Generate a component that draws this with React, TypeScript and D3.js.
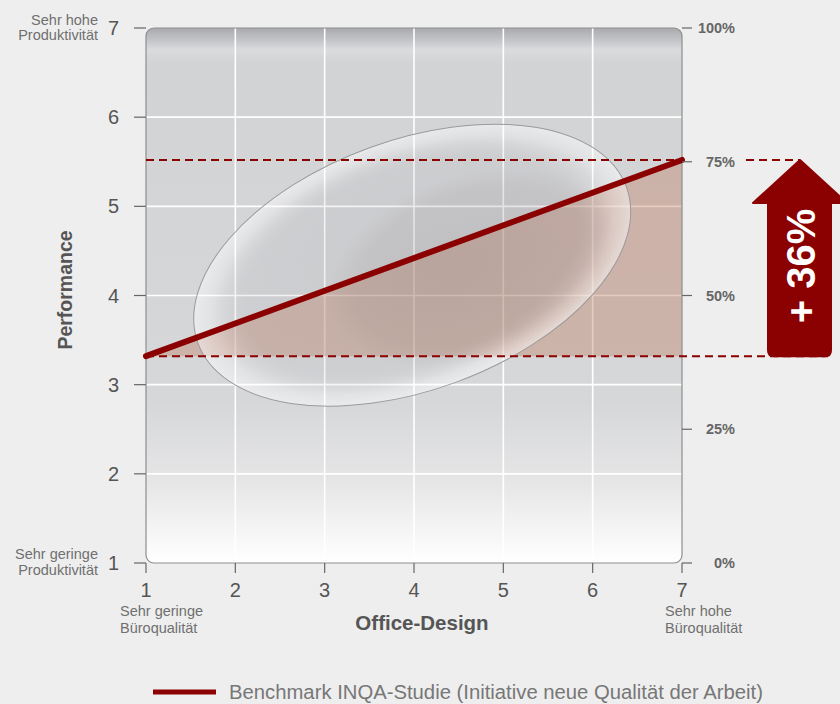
import React from "react";
import * as d3 from "d3";

const xTicks = [1, 2, 3, 4, 5, 6, 7];
const yTicks = [1, 2, 3, 4, 5, 6, 7];
const pctTicks = [0, 25, 50, 75, 100];
const benchmarkX = [1, 7];
const benchmarkY = [3.32, 5.52];
const increaseLabel = "+ 36%";
const ellipseCenter = [3.98, 4.34];
const legendLabel = "Benchmark INQA-Studie (Initiative neue Qualität der Arbeit)";

const W = 840;
const H = 704;
const FONT = "'Liberation Sans', Arial, Helvetica, sans-serif";
const RED = "#8b0000";

export default function App() {
  const x = d3.scaleLinear().domain([1, 7]).range([146, 682]);
  const y = d3.scaleLinear().domain([1, 7]).range([563, 28]);
  const pct = d3.scaleLinear().domain([0, 100]).range([563, 28]);

  const pts: [number, number][] = benchmarkX.map((v, i) => [v, benchmarkY[i]]);
  const line = d3.line<[number, number]>().x(d => x(d[0])).y(d => y(d[1]));
  const area = d3
    .area<[number, number]>()
    .x(d => x(d[0]))
    .y0(y(benchmarkY[0]))
    .y1(d => y(d[1]));

  const yLow = y(benchmarkY[0]);
  const yHigh = y(benchmarkY[1]);
  const ax = 800;
  const headH = 43;
  const arrowPath = `M${ax},${yHigh} L${ax + 47},${yHigh + headH} L${ax + 31},${yHigh + headH} L${ax + 31},${yLow - 6} Q${ax + 31},${yLow} ${ax + 25},${yLow} L${ax - 26},${yLow} Q${ax - 32},${yLow} ${ax - 32},${yLow - 6} L${ax - 32},${yHigh + headH} L${ax - 47},${yHigh + headH} Z`;

  const ecx = x(ellipseCenter[0]);
  const ecy = y(ellipseCenter[1]);

  const x0 = x(1), x1 = x(7), yTop = y(7), yBot = y(1);
  const sub = { fontSize: 14.5, fill: "#707070" };

  return (
    <svg width={W} height={H} style={{ position: "absolute", left: 0, top: 0, display: "block" }} fontFamily={FONT}>
      <defs>
        <linearGradient id="bg" x1="0" y1="0" x2="0" y2="1">
          <stop offset="0" stopColor="#a9aaad" />
          <stop offset="0.025" stopColor="#c6c7ca" />
          <stop offset="0.04" stopColor="#dadbdd" />
          <stop offset="0.065" stopColor="#d2d3d5" />
          <stop offset="0.7" stopColor="#d6d7d9" />
          <stop offset="0.85" stopColor="#e6e6e7" />
          <stop offset="1" stopColor="#ffffff" />
        </linearGradient>
        <radialGradient id="lens" cx="0.5" cy="0.5" r="0.5">
          <stop offset="0" stopColor="#8c8c92" stopOpacity="0.14" />
          <stop offset="0.75" stopColor="#9a9aa0" stopOpacity="0.12" />
          <stop offset="0.92" stopColor="#ffffff" stopOpacity="0.3" />
          <stop offset="1" stopColor="#ffffff" stopOpacity="0.5" />
        </radialGradient>
        <radialGradient id="lobe" cx="0.5" cy="0.5" r="0.5">
          <stop offset="0" stopColor="#6a5a58" stopOpacity="0.12" />
          <stop offset="0.8" stopColor="#6a5a58" stopOpacity="0.08" />
          <stop offset="1" stopColor="#6a5a58" stopOpacity="0" />
        </radialGradient>
        <clipPath id="plotClip">
          <rect x={x0} y={yTop} width={x1 - x0} height={yBot - yTop} rx={8} />
        </clipPath>
      </defs>

      <rect x={0} y={0} width={W} height={H} fill="#eeeeee" />

      <rect x={x0} y={yTop} width={x1 - x0} height={yBot - yTop} rx={8} fill="url(#bg)" />

      <g clipPath="url(#plotClip)">
        {xTicks.slice(1, -1).map(t => (
          <line key={"gx" + t} x1={x(t)} x2={x(t)} y1={yTop} y2={yBot} stroke="#ffffff" strokeWidth={1.6} />
        ))}
        {yTicks.slice(1, -1).map(t => (
          <line key={"gy" + t} x1={x0} x2={x1} y1={y(t)} y2={y(t)} stroke="#ffffff" strokeWidth={1.6} />
        ))}
        <path d={area(pts) || ""} fill="#c0826a" fillOpacity={0.42} />
        <g transform={`translate(${ecx},${ecy}) rotate(-20)`}>
          <ellipse cx={0} cy={0} rx={228} ry={125} fill="url(#lens)" stroke="#9a9a9a" strokeWidth={1} />
          <ellipse cx={55} cy={22} rx={150} ry={92} fill="url(#lobe)" />
        </g>
      </g>

      <rect x={x0} y={yTop} width={x1 - x0} height={yBot - yTop} rx={8} fill="none" stroke="#8e8e8e" strokeWidth={1.2} />

      <line x1={x0} x2={x1} y1={yHigh} y2={yHigh} stroke={RED} strokeWidth={2} strokeDasharray="8 5" />
      <line x1={746} x2={ax} y1={yHigh} y2={yHigh} stroke={RED} strokeWidth={2} strokeDasharray="8 5" />
      <line x1={x0} x2={828} y1={yLow} y2={yLow} stroke={RED} strokeWidth={2} strokeDasharray="8 5" />

      <path d={line(pts) || ""} fill="none" stroke={RED} strokeWidth={6} strokeLinecap="round" />

      {yTicks.map(t => (
        <g key={"yt" + t}>
          <line x1={134} x2={x0} y1={y(t)} y2={y(t)} stroke="#666" strokeWidth={1.2} />
          <text x={119} y={y(t) + 7} textAnchor="end" fontSize={20} fill="#555">{t}</text>
        </g>
      ))}
      <text x={98} y={25} textAnchor="end" {...sub}>Sehr hohe</text>
      <text x={98} y={40} textAnchor="end" {...sub}>Produktivität</text>
      <text x={98} y={559} textAnchor="end" {...sub}>Sehr geringe</text>
      <text x={98} y={575} textAnchor="end" {...sub}>Produktivität</text>
      <text transform="translate(72,290) rotate(-90)" textAnchor="middle" fontSize={19.5} fontWeight="bold" fill="#555">Performance</text>

      {xTicks.map(t => (
        <g key={"xt" + t}>
          <line x1={x(t)} x2={x(t)} y1={yBot} y2={573} stroke="#666" strokeWidth={1.2} />
          <text x={x(t)} y={597} textAnchor="middle" fontSize={20} fill="#555">{t}</text>
        </g>
      ))}
      <text x={120} y={616} {...sub}>Sehr geringe</text>
      <text x={120} y={633} {...sub}>Büroqualität</text>
      <text x={665} y={616} {...sub}>Sehr hohe</text>
      <text x={665} y={633} {...sub}>Büroqualität</text>
      <text x={422} y={630} textAnchor="middle" fontSize={20.5} fontWeight="bold" fill="#555">Office-Design</text>

      {pctTicks.map(t => (
        <g key={"pt" + t}>
          <line x1={x1} x2={692} y1={pct(t)} y2={pct(t)} stroke="#666" strokeWidth={1.2} />
          <text x={735} y={pct(t) + 5} textAnchor="end" fontSize={14.5} fontWeight="bold" fill="#666">{t + "%"}</text>
        </g>
      ))}

      <path d={arrowPath} fill={RED} strokeLinejoin="round" stroke={RED} strokeWidth={2} />
      <text transform={`translate(815,266) rotate(-90)`} textAnchor="middle" fontSize={40} fontWeight="bold" fill="#ffffff">{increaseLabel}</text>

      <line x1={153} x2={216} y1={692} y2={692} stroke={RED} strokeWidth={5} />
      <text x={229} y={699} fontSize={20} fill="#777" textLength={534} lengthAdjust="spacingAndGlyphs">{legendLabel}</text>
    </svg>
  );
}
